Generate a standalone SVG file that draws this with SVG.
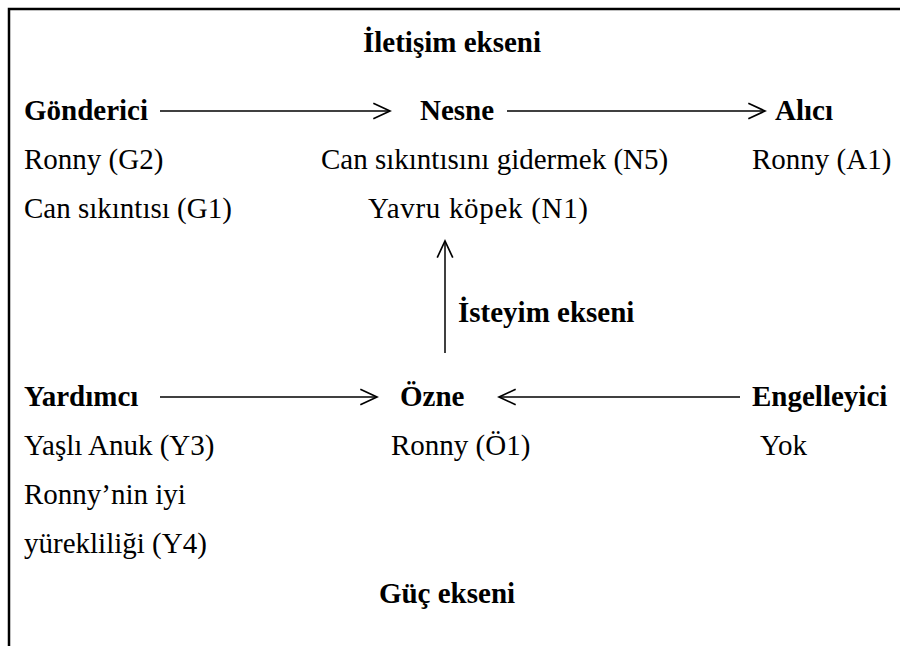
<svg xmlns="http://www.w3.org/2000/svg" width="900" height="646" viewBox="0 0 900 646">
  <style>
    text { font-family: "Liberation Serif", "Times New Roman", serif; font-size: 29px; fill: #000; }
    .b { font-weight: bold; }
    .frame { fill: none; stroke: #000; stroke-width: 2.5; }
    .link { fill: none; stroke: #000; stroke-width: 1.5; }
  </style>
  <defs>
    <marker id="open" markerUnits="userSpaceOnUse" markerWidth="20" markerHeight="20" viewBox="-16 -8 18 16" refX="0" refY="0" orient="auto">
      <path d="M-15,-7 L0,0 L-15,7" fill="none" stroke="#000" stroke-width="1.5"/>
    </marker>
  </defs>

  <!-- frame: top and left edges -->
  <path class="frame" d="M9,646 L9,9 L900,9"/>

  <!-- axis titles -->
  <text id="iletisim" class="b" x="452" y="52" text-anchor="middle">İletişim ekseni</text>
  <text id="isteyim" class="b" x="458" y="322">İsteyim ekseni</text>
  <text id="guc" class="b" x="447" y="603" text-anchor="middle">Güç ekseni</text>

  <g id="gonderici">
    <text class="b" x="24" y="120">Gönderici</text>
    <text x="24" y="169">Ronny (G2)</text>
    <text x="24" y="218">Can sıkıntısı (G1)</text>
  </g>

  <g id="nesne">
    <text class="b" x="420" y="120">Nesne</text>
    <text x="321" y="169">Can sıkıntısını gidermek (N5)</text>
    <text x="368" y="218" textLength="220">Yavru köpek (N1)</text>
  </g>

  <g id="alici">
    <text class="b" x="775" y="120">Alıcı</text>
    <text x="752" y="169">Ronny (A1)</text>
  </g>

  <g id="yardimci">
    <text class="b" x="24" y="406">Yardımcı</text>
    <text x="24" y="455">Yaşlı Anuk (Y3)</text>
    <text x="24" y="504">Ronny’nin iyi</text>
    <text x="24" y="553">yürekliliği (Y4)</text>
  </g>

  <g id="ozne">
    <text class="b" x="400" y="406">Özne</text>
    <text x="391" y="455">Ronny (Ö1)</text>
  </g>

  <g id="engelleyici">
    <text class="b" x="752" y="406">Engelleyici</text>
    <text x="760" y="455">Yok</text>
  </g>

  <g id="connectors">
    <line class="link" x1="160" y1="111" x2="390" y2="111" marker-end="url(#open)"/>
    <line class="link" x1="507" y1="111" x2="765" y2="111" marker-end="url(#open)"/>
    <line class="link" x1="445" y1="353" x2="445" y2="241" marker-end="url(#open)"/>
    <line class="link" x1="160" y1="397" x2="377" y2="397" marker-end="url(#open)"/>
    <line class="link" x1="740" y1="397" x2="499" y2="397" marker-end="url(#open)"/>
  </g>
</svg>
